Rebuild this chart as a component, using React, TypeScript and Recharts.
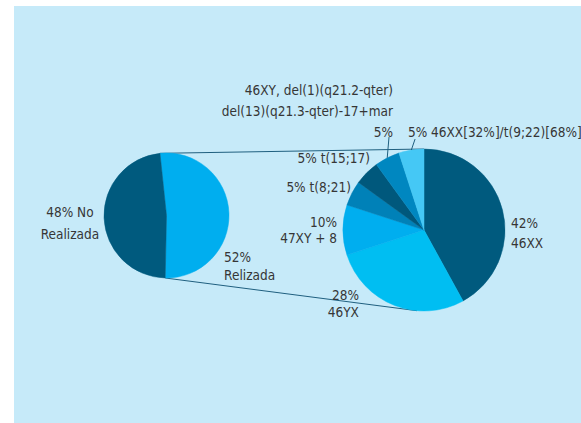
import React from "react";
import { Cell, Pie, PieChart } from "recharts";

// left pie: was the karyotype done or not
const overviewNames = ["Relizada", "No Realizada"];
const overviewValues = [52, 48];
const overviewLabels = [
  ["52%", "Relizada"],
  ["48% No", "Realizada"],
];

// right pie: breakdown of the karyotypes that were done
const karyoNames = [
  "46XX",
  "46YX",
  "47XY + 8",
  "t(8;21)",
  "t(15;17)",
  "46XY, del(1)(q21.2-qter) del(13)(q21.3-qter)-17+mar",
  "46XX[32%]/t(9;22)[68%]",
];
const karyoValues = [42, 28, 10, 5, 5, 5, 5];
const karyoLabels = [
  ["42%", "46XX"],
  ["28%", "46YX"],
  ["10%", "47XY + 8"],
  ["5% t(8;21)"],
  ["5% t(15;17)"],
  ["46XY, del(1)(q21.2-qter)", "del(13)(q21.3-qter)-17+mar", "5%"],
  ["5% 46XX[32%]/t(9;22)[68%]"],
];

const overviewColors = ["#00aeef", "#005a7e"];
const karyoColors = ["#005a7e", "#00bef2", "#00aeef", "#0081b8", "#00587c", "#0087c0", "#45c8f5"];

const W = 581;
const H = 423;
const BG = "#c6eaf9";
const TEXT = "#363636";
const FONT = "'DejaVu Sans Condensed', sans-serif";
const FS = 13.5;

const LEFT = { cx: 166.5, cy: 215.5, r: 62.5, start: 96 };
const RIGHT = { cx: 424, cy: 230, r: 81, start: 90 };

type LabelSpot = {
  angle: number;
  radius: number;
  anchor: "start" | "middle" | "end";
  gap: number;
  leader?: { angle: number; radius: number };
};

const overviewSpots: LabelSpot[] = [
  { angle: -35.8, radius: 71, anchor: "start", gap: 17.5 },
  { angle: 177.9, radius: 96.6, anchor: "middle", gap: 22 },
];

const karyoSpots: LabelSpot[] = [
  { angle: 4.6, radius: 87.3, anchor: "start", gap: 20 },
  { angle: -135, radius: 92, anchor: "end", gap: 17 },
  { angle: 174.7, radius: 87.4, anchor: "end", gap: 16.5 },
  { angle: 149.5, radius: 84.7, anchor: "end", gap: 20 },
  { angle: 126.9, radius: 90, anchor: "end", gap: 20 },
  { angle: 102.5, radius: 143, anchor: "end", gap: 21, leader: { angle: 110.6, radius: 99.4 } },
  { angle: 99.3, radius: 99.3, anchor: "start", gap: 20, leader: { angle: 95.6, radius: 91.4 } },
];

const RAD = Math.PI / 180;
const polar = (cx: number, cy: number, r: number, deg: number) => ({
  x: cx + r * Math.cos(deg * RAD),
  y: cy - r * Math.sin(deg * RAD),
});

const makeLabel = (lines: string[][], spots: LabelSpot[]) => (props: any) => {
  const { cx, cy, midAngle, outerRadius, index } = props;
  const spot = spots[index];
  const p = polar(cx, cy, spot.radius, spot.angle);
  let leader = null;
  if (spot.leader) {
    const a = polar(cx, cy, outerRadius, midAngle);
    const b = polar(cx, cy, spot.leader.radius, spot.leader.angle);
    leader = <line x1={a.x} y1={a.y} x2={b.x} y2={b.y} stroke="#1f5f7f" strokeWidth={1} />;
  }
  return (
    <g key={`lbl-${index}`}>
      {leader}
      <text
        x={p.x}
        y={p.y}
        textAnchor={spot.anchor}
        fill={TEXT}
        fontFamily={FONT}
        fontSize={FS}
        dominantBaseline="central"
      >
        {lines[index].map((t, i) => (
          <tspan key={i} x={p.x} dy={i === 0 ? 0 : spot.gap}>
            {t}
          </tspan>
        ))}
      </text>
    </g>
  );
};

export default function App() {
  const overviewData = overviewNames.map((name, i) => ({ name, value: overviewValues[i] }));
  const karyoData = karyoNames.map((name, i) => ({ name, value: karyoValues[i] }));

  const total = overviewValues.reduce((s, v) => s + v, 0);
  const leftEnd = LEFT.start - (360 * overviewValues[0]) / total;
  const lt = polar(LEFT.cx, LEFT.cy, LEFT.r, LEFT.start);
  const lb = polar(LEFT.cx, LEFT.cy, LEFT.r, leftEnd);
  const rt = polar(RIGHT.cx, RIGHT.cy, RIGHT.r, RIGHT.start);
  const rb = polar(RIGHT.cx, RIGHT.cy, RIGHT.r, -95);

  return (
    <div style={{ position: "relative", width: W, height: H, background: "#fff" }}>
      <style>{"body{margin:0}"}</style>
      <div style={{ position: "absolute", left: 14, top: 6, right: 0, bottom: 0, background: BG }} />
      <svg width={W} height={H} style={{ position: "absolute", left: 0, top: 0 }}>
        <line x1={lt.x} y1={lt.y} x2={rt.x} y2={rt.y} stroke="#1f5f7f" strokeWidth={1} />
        <line x1={lb.x} y1={lb.y} x2={rb.x} y2={rb.y} stroke="#1f5f7f" strokeWidth={1} />
      </svg>
      <div style={{ position: "absolute", left: 0, top: 0 }}>
        <PieChart width={W} height={H} margin={{ top: 0, right: 0, bottom: 0, left: 0 }}>
          <Pie
            data={overviewData}
            dataKey="value"
            cx={LEFT.cx}
            cy={LEFT.cy}
            outerRadius={LEFT.r}
            startAngle={LEFT.start}
            endAngle={LEFT.start - 360}
            label={makeLabel(overviewLabels, overviewSpots)}
            labelLine={false}
            isAnimationActive={false}
          >
            {overviewData.map((d, i) => (
              <Cell key={d.name} fill={overviewColors[i]} stroke={overviewColors[i]} strokeWidth={0.5} />
            ))}
          </Pie>
          <Pie
            data={karyoData}
            dataKey="value"
            cx={RIGHT.cx}
            cy={RIGHT.cy}
            outerRadius={RIGHT.r}
            startAngle={RIGHT.start}
            endAngle={RIGHT.start - 360}
            label={makeLabel(karyoLabels, karyoSpots)}
            labelLine={false}
            isAnimationActive={false}
          >
            {karyoData.map((d, i) => (
              <Cell key={d.name} fill={karyoColors[i]} stroke={karyoColors[i]} strokeWidth={0.5} />
            ))}
          </Pie>
        </PieChart>
      </div>
    </div>
  );
}
